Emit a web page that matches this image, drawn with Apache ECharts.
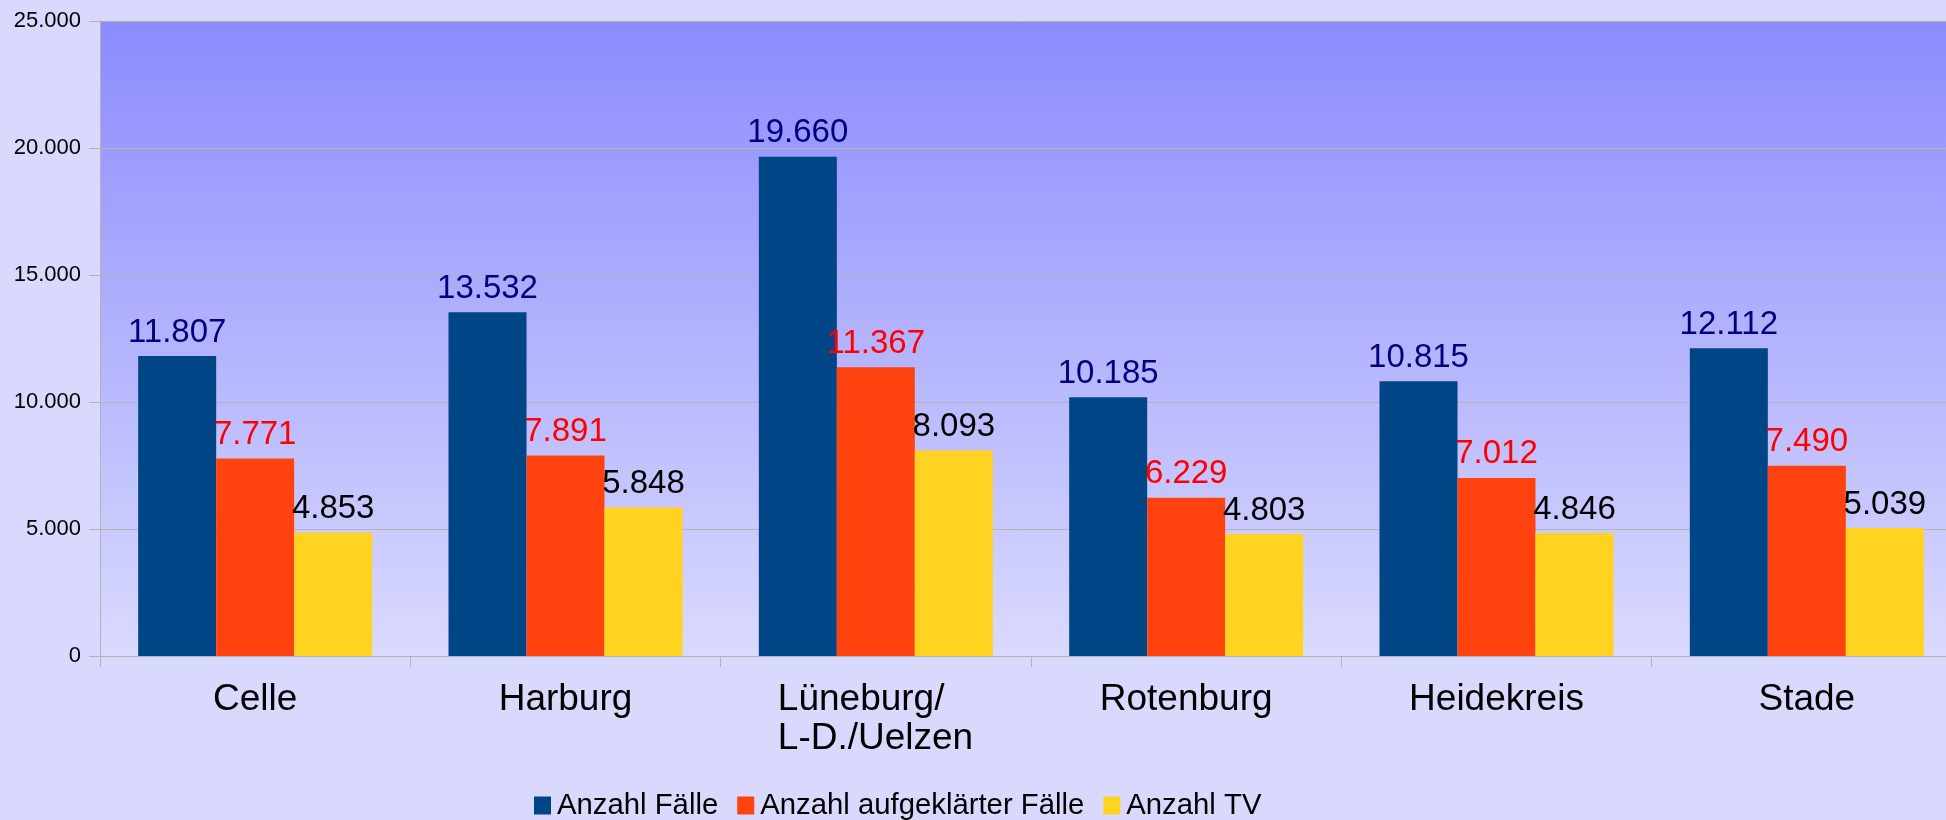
<!doctype html>
<html>
    <head>
        <meta charset="utf-8">
        <title>Anzahl Fälle</title>
        <style>
            html, body {
                margin: 0;
                padding: 0;
                background: #d9d9fe;
            }
            #main {
                width: 1946px;
                height: 820px;
            }
        </style>
    </head>
    <body>
        <div id="main"></div>
        <script src="https://cdn.jsdelivr.net/npm/echarts@6/dist/echarts.min.js"></script>
        <script>
            var categories = ['Celle', 'Harburg', 'Lüneburg/\nL-D./Uelzen', 'Rotenburg', 'Heidekreis', 'Stade'];
            var faelle = [11807, 13532, 19660, 10185, 10815, 12112];
            var aufgeklaert = [7771, 7891, 11367, 6229, 7012, 7490];
            var tv = [4853, 5848, 8093, 4803, 4846, 5039];
            var seriesNames = ['Anzahl Fälle', 'Anzahl aufgeklärter Fälle', 'Anzahl TV'];

            var font = 'Liberation Sans, Arial, sans-serif';

            // 11807 -> 11.807
            function fmt(v) {
                return String(v).replace(/\B(?=(\d{3})+(?!\d))/g, '.');
            }

            function barSeries(name, data, color, labelColor) {
                return {
                    name: name,
                    type: 'bar',
                    data: data,
                    barWidth: 78,
                    barGap: 0,
                    itemStyle: { color: color },
                    label: {
                        show: true,
                        position: 'top',
                        distance: 7,
                        color: labelColor,
                        fontFamily: font,
                        fontSize: 33,
                        formatter: function (p) { return fmt(p.value); }
                    }
                };
            }

            var chart = echarts.init(document.getElementById('main'));
            chart.setOption({
                backgroundColor: '#d9d9fe',
                animation: false,
                grid: {
                    left: 100,
                    top: 21,
                    width: 1862,
                    height: 635,
                    outerBoundsMode: 'none',
                    show: true,
                    borderWidth: 0,
                    backgroundColor: new echarts.graphic.LinearGradient(0, 0, 0, 1, [
                        { offset: 0, color: '#8b8bfe' },
                        { offset: 1, color: '#dadafe' }
                    ])
                },
                legend: {
                    left: 529,
                    top: 786,
                    icon: 'rect',
                    itemWidth: 17,
                    itemHeight: 18,
                    itemGap: 19,
                    textStyle: {
                        fontFamily: font,
                        fontSize: 29.3,
                        color: '#000',
                        padding: [0, 0, 0, 1]
                    },
                    data: seriesNames
                },
                xAxis: {
                    type: 'category',
                    data: categories,
                    axisLine: { lineStyle: { color: '#b3b3b3', width: 1 } },
                    axisTick: { show: true, length: 11, lineStyle: { color: '#b3b3b3' } },
                    axisLabel: {
                        margin: 24,
                        color: '#000',
                        fontFamily: font,
                        fontSize: 37,
                        lineHeight: 39,
                        interval: 0,
                        formatter: function (v) {
                            if (v.indexOf('\n') < 0) return v;
                            return v.split('\n').map(function (s) { return '{l|' + s + '}'; }).join('\n');
                        },
                        rich: {
                            l: {
                                width: 196,
                                align: 'left',
                                fontFamily: font,
                                fontSize: 37,
                                lineHeight: 39,
                                color: '#000'
                            }
                        }
                    }
                },
                yAxis: {
                    type: 'value',
                    min: 0,
                    max: 25000,
                    interval: 5000,
                    axisLine: { show: true, lineStyle: { color: '#b3b3b3', width: 1 } },
                    axisTick: { show: true, length: 11, lineStyle: { color: '#b3b3b3' } },
                    splitLine: { lineStyle: { color: '#b3b3b3', width: 1 } },
                    axisLabel: {
                        margin: 19,
                        color: '#000',
                        fontFamily: font,
                        fontSize: 22,
                        formatter: fmt
                    }
                },
                series: [
                    barSeries(seriesNames[0], faelle, '#004586', '#000080'),
                    barSeries(seriesNames[1], aufgeklaert, '#ff420e', '#ff0000'),
                    barSeries(seriesNames[2], tv, '#ffd320', '#000000')
                ]
            });
        </script>
    </body>
</html>
